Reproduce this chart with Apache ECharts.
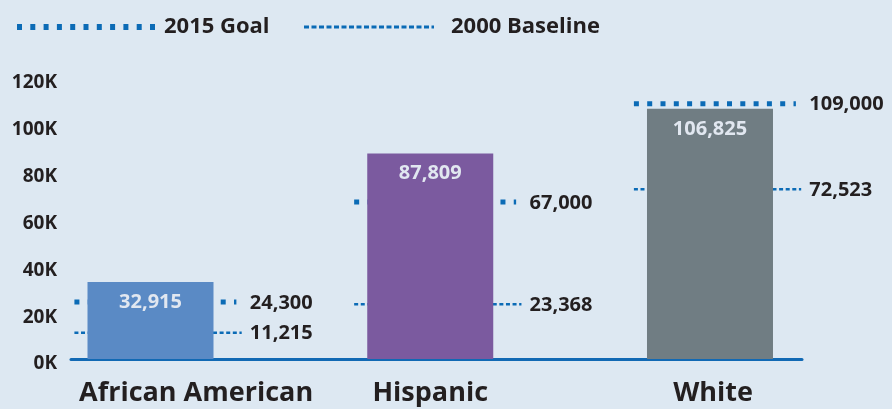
<!DOCTYPE html>
<html>
<head>
<meta charset="utf-8">
<script src="https://cdn.jsdelivr.net/npm/echarts@6/dist/echarts.min.js"></script>
<style>
  html, body { margin: 0; padding: 0; background: #dde8f2; }
  #chart { width: 892px; height: 409px; }
</style>
</head>
<body>
<div id="chart"></div>
<script>
// Enrollment by group: 2015 actual vs. 2015 goal and 2000 baseline
const categories = ['African American', 'Hispanic', 'White'];
const actual2015 = [32915, 87809, 106825];
const goal2015 = [24300, 67000, 109000];
const baseline2000 = [11215, 23368, 72523];
const yTickValues = [0, 20000, 40000, 60000, 80000, 100000, 120000];

const barColors = ['#5a8ac5', '#7b5a9f', '#707d83'];
const lineBlue = '#0b6bb6';
const textDark = '#231f20';
const FONT = '"Open Sans", "Noto Sans", sans-serif';

const fmt = v => v.toLocaleString('en-US');

const chart = echarts.init(document.getElementById('chart'), null, { renderer: 'canvas' });

// Reference line (goal / baseline) drawn across a category slot, with its value label
function refLine(style, endOffset) {
  return function (params, api) {
    const x = api.value(0);
    const v = api.value(1);
    const p1 = api.coord([x - 0.272, v]);
    const p2 = api.coord([x + endOffset, v]);
    const pl = api.coord([x + 0.355, v]);
    return {
      type: 'group',
      children: [
        {
          type: 'line',
          shape: { x1: p1[0], y1: p1[1], x2: p2[0], y2: p2[1] },
          style: Object.assign({ stroke: lineBlue, fill: null, lineCap: 'butt' }, style)
        },
        {
          type: 'text',
          x: pl[0],
          y: p1[1] + 1,
          style: {
            text: fmt(v),
            fill: textDark,
            font: 'bold 20px ' + FONT,
            textAlign: 'left',
            verticalAlign: 'middle',
            textVerticalAlign: 'middle'
          }
        }
      ]
    };
  };
}

const option = {
  backgroundColor: '#dde8f2',
  animation: false,
  grid: { left: 71, right: 90, top: 78, bottom: 50 },
  xAxis: {
    type: 'value',
    min: -0.2842,
    max: 2.3289,
    splitLine: { show: false },
    axisTick: { show: false },
    axisLine: { show: true, onZero: false, lineStyle: { color: '#1169b4', width: 3 } },
    axisLabel: {
      customValues: [0.163, 1, 2.011],
      formatter: v => categories[Math.round(v)],
      color: textDark,
      fontFamily: FONT,
      fontWeight: 'bold',
      fontSize: 27,
      margin: 21,
      hideOverlap: false
    }
  },
  yAxis: {
    type: 'value',
    min: 0,
    max: 120000,
    interval: 20000,
    splitLine: { show: false },
    axisLine: { show: false },
    axisTick: { show: false },
    axisLabel: {
      formatter: v => (v / 1000) + 'K',
      color: textDark,
      fontFamily: FONT,
      fontWeight: 'bold',
      fontSize: 19,
      margin: 14,
      verticalAlign: 'top',
      lineHeight: 10
    }
  },
  graphic: [
    {
      type: 'line',
      shape: { x1: 17, y1: 27, x2: 155, y2: 27 },
      style: { stroke: lineBlue, lineWidth: 6, lineDash: [5, 8.3], lineCap: 'butt' }
    },
    {
      type: 'text', x: 164, y: 27,
      style: { text: '2015 Goal', fill: textDark, font: 'bold 22px ' + FONT, verticalAlign: 'middle', textVerticalAlign: 'middle' }
    },
    {
      type: 'line',
      shape: { x1: 304, y1: 27, x2: 434, y2: 27 },
      style: { stroke: lineBlue, lineWidth: 3, lineDash: [5, 2.5], lineCap: 'butt' }
    },
    {
      type: 'text', x: 451, y: 27,
      style: { text: '2000 Baseline', fill: textDark, font: 'bold 22px ' + FONT, verticalAlign: 'middle', textVerticalAlign: 'middle' }
    }
  ],
  series: [
    {
      name: '2015 Goal',
      type: 'custom',
      z: 1,
      renderItem: refLine({ lineWidth: 5, lineDash: [5, 8.3] }, 0.307),
      encode: { x: 0, y: 1 },
      data: goal2015.map((v, i) => [i, v])
    },
    {
      name: '2000 Baseline',
      type: 'custom',
      z: 1,
      renderItem: refLine({ lineWidth: 2.5, lineDash: [4, 2.6] }, 0.326),
      encode: { x: 0, y: 1 },
      data: baseline2000.map((v, i) => [i, v])
    },
    {
      name: '2015',
      type: 'bar',
      z: 3,
      barWidth: 126,
      data: actual2015.map((v, i) => ({ value: [i, v], itemStyle: { color: barColors[i] } })),
      label: {
        show: true,
        position: 'insideTop',
        distance: 10,
        formatter: p => fmt(p.value[1]),
        color: '#e1e7f0',
        fontFamily: FONT,
        fontWeight: 'bold',
        fontSize: 20
      }
    }
  ]
};

chart.setOption(option);
</script>
</body>
</html>
